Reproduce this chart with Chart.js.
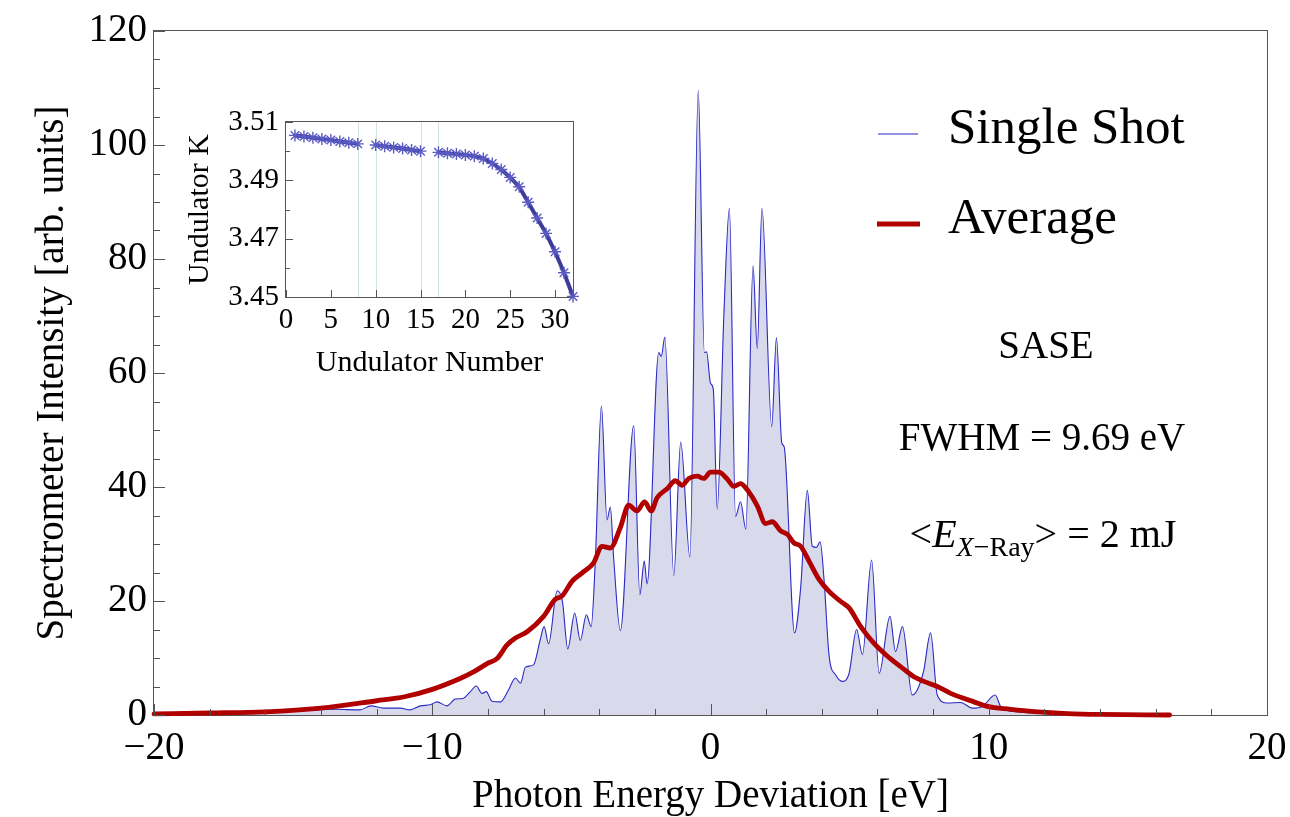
<!DOCTYPE html>
<html>
<head>
<meta charset="utf-8">
<title>SASE spectrum</title>
<script src="https://cdn.jsdelivr.net/npm/chart.js@4.4.1/dist/chart.umd.min.js"></script>
<style>
  html, body { margin: 0; padding: 0; background: #ffffff; }
  #wrap { position: relative; width: 1290px; height: 817px; overflow: hidden; }
  #main { position: absolute; left: 0; top: 0; }
  #inset { position: absolute; left: 150px; top: 85px; }
</style>
</head>
<body>
<div id="wrap">
  <canvas id="main" width="1290" height="817"></canvas>
  <canvas id="inset" width="440" height="300"></canvas>
</div>
<script>
const SERIF = "'Liberation Serif', 'Times New Roman', serif";

// Single-shot spectrum: photon energy deviation [eV] and intensity [arb. units]
const shotEnergy = [
  -20.0, -18.0, -16.0, -14.5, -13.5, -12.6, -12.2, -11.75, -11.15, -10.8,
  -10.43, -10.07, -9.83, -9.47, -9.17, -8.9, -8.63, -8.42, -8.21, -8.06,
  -7.85, -7.55, -7.26, -7.01, -6.83, -6.65, -6.36, -6.12, -5.98, -5.82,
  -5.51, -5.32, -5.13, -4.88, -4.68, -4.46, -4.29, -4.14, -3.92, -3.72,
  -3.6, -3.48, -3.24, -2.76, -2.54, -2.38, -2.28, -1.86, -1.77, -1.64,
  -1.32, -1.07, -0.74, -0.44, -0.22, -0.14, 0.0, 0.1, 0.24, 0.48,
  0.68, 0.9, 1.08, 1.27, 1.53, 1.68, 1.85, 2.2, 2.37, 2.56,
  2.65, 3.02, 3.24, 3.48, 3.66, 3.81, 3.94, 4.08, 4.26, 4.5,
  4.74, 4.98, 5.25, 5.46, 5.79, 6.06, 6.45, 6.65, 6.9, 7.25,
  7.65, 7.91, 8.15, 8.51, 8.99, 9.41, 9.77, 10.23, 10.43, 10.9,
  12.0, 14.0, 16.5
];
const shotIntensity = [
  0.1, 0.2, 0.3, 0.8, 1.0, 0.9, 1.6, 1.2, 1.2, 0.9,
  1.6, 1.8, 2.3, 1.6, 2.8, 2.9, 4.1, 5.1, 3.8, 4.1,
  2.4, 2.3, 4.4, 6.5, 5.6, 8.4, 8.8, 13.2, 15.5, 12.5,
  21.8, 19.9, 11.6, 17.9, 13.1, 17.6, 15.5, 27.0, 54.2, 34.2,
  36.5, 27.5, 14.8, 50.8, 21.1, 27.0, 23.0, 63.6, 62.9, 66.3,
  24.5, 47.9, 27.7, 109.6, 63.6, 63.7, 58.2, 57.2, 36.1, 70.1,
  88.9, 34.8, 37.4, 32.6, 78.8, 64.3, 88.9, 50.6, 66.2, 47.8,
  47.0, 14.4, 22.3, 39.4, 29.6, 29.4, 30.4, 23.8, 10.5, 7.0,
  5.9, 7.3, 15.0, 10.6, 27.2, 7.3, 17.3, 11.1, 15.5, 3.5,
  7.5, 14.4, 3.5, 2.1, 2.2, 1.2, 1.5, 3.5, 1.5, 0.6,
  0.3, 0.2, 0.1
];

// Shot-averaged spectrum
const avgEnergy = [
  -20.0, -18.0, -16.0, -14.0, -12.0, -11.0, -10.0, -9.0, -8.5, -8.0,
  -7.67, -7.31, -7.01, -6.59, -6.0, -5.58, -5.33, -4.97, -4.62, -4.2,
  -3.9, -3.6, -3.24, -2.94, -2.64, -2.37, -2.13, -1.92, -1.56, -1.26,
  -1.02, -0.78, -0.48, -0.24, 0.0, 0.3, 0.6, 0.84, 1.08, 1.32,
  1.68, 1.98, 2.22, 2.52, 2.76, 3.0, 3.24, 3.54, 3.9, 4.26,
  4.74, 4.98, 5.4, 5.87, 6.36, 6.83, 7.31, 7.67, 8.15, 8.63,
  8.99, 9.47, 9.95, 10.79, 11.63, 12.83, 14.03, 16.5
];
const avgIntensity = [
  0.2, 0.35, 0.55, 1.2, 2.5, 3.2, 4.5, 6.4, 7.6, 9.1,
  9.9, 12.3, 13.5, 14.6, 17.3, 20.3, 20.9, 23.5, 24.9, 26.7,
  29.6, 29.3, 32.9, 36.8, 35.8, 37.4, 35.8, 38.1, 39.7, 41.1,
  40.3, 41.5, 41.9, 41.5, 42.6, 42.6, 41.4, 40.1, 40.6, 39.5,
  36.7, 33.6, 33.9, 32.3, 31.7, 30.2, 29.6, 27.0, 23.8, 21.7,
  19.7, 18.8, 15.5, 12.6, 10.3, 8.5, 6.7, 5.9, 5.0, 3.8,
  3.1, 2.3, 1.5, 1.0, 0.6, 0.25, 0.1, 0.0
];

// Labelled ticks of the main frame
const xMajorTicks = [-20, -10, 0, 10, 20];
const yMajorTicks = [0, 20, 40, 60, 80, 100, 120];

// Inset: undulator K along the line (9 and 16 are empty slots)
const undulatorNumber = [
  1, 2, 3, 4, 5, 6, 7, 8, 9, 10, 11, 12, 13, 14, 15, 16,
  17, 18, 19, 20, 21, 22, 23, 24, 25, 26, 27, 28, 29, 30, 31, 32
];
const undulatorK = [
  3.5054, 3.5050, 3.5046, 3.5042, 3.5038, 3.5033, 3.5029, 3.5025, null, 3.5021,
  3.5017, 3.5013, 3.5009, 3.5004, 3.5000, null, 3.4996, 3.4993, 3.4990, 3.4987,
  3.4983, 3.4975, 3.4958, 3.4937, 3.4910, 3.4878, 3.4825, 3.4771, 3.4718, 3.4655,
  3.4583, 3.4502
];
const insetXMajor = [0, 5, 10, 15, 20, 25, 30];
const insetYMajor = [3.45, 3.47, 3.49, 3.51];
const segmentEdges = [8, 10, 15, 17];

const legendLabels = ['Single Shot', 'Average'];
const fmtMinus = v => (v < 0 ? '\u2212' + Math.abs(v) : String(v));

// Frame box plus inward tick marks (long where labelled, short otherwise)
const frameTicks = {
  id: 'frameTicks',
  beforeDatasetsDraw(chart, args, o) {
    const { ctx, chartArea: a } = chart;
    ctx.save();
    ctx.strokeStyle = o.color;
    ctx.lineWidth = 1;
    ctx.strokeRect(Math.round(a.left) - 0.5, Math.round(a.top) - 0.5,
      Math.round(a.right - a.left) + 1, Math.round(a.bottom - a.top) + 1);
    ctx.restore();
  },
  afterDatasetsDraw(chart, args, o) {
    const { ctx, chartArea: a } = chart;
    const sx = chart.scales.x, sy = chart.scales.y;
    ctx.save();
    ctx.strokeStyle = o.color;
    ctx.lineWidth = 1;
    ctx.beginPath();
    sx.ticks.forEach(t => {
      const p = Math.round(sx.getPixelForValue(t.value)) + 0.5;
      const len = t.label ? o.majorLen : o.minorLen;
      if (len > 0) { ctx.moveTo(p, a.bottom); ctx.lineTo(p, a.bottom - len); }
    });
    sy.ticks.forEach(t => {
      const p = Math.round(sy.getPixelForValue(t.value)) + 0.5;
      const len = t.label ? o.majorLen : o.minorLen;
      if (len > 0) { ctx.moveTo(a.left, p); ctx.lineTo(a.left + len, p); }
    });
    ctx.stroke();
    ctx.restore();
  }
};

// Legend and the SASE / FWHM / pulse-energy notes
const notes = {
  id: 'notes',
  afterDraw(chart) {
    const ctx = chart.ctx;
    const ds = chart.data.datasets;
    ctx.save();
    // legend entries
    const rows = [
      { x0: 878, x1: 918, y: 134, base: 143 },
      { x0: 877, x1: 920, y: 224, base: 233 }
    ];
    rows.forEach((r, i) => {
      ctx.strokeStyle = ds[i].borderColor;
      ctx.lineWidth = ds[i].borderWidth;
      ctx.beginPath(); ctx.moveTo(r.x0, r.y); ctx.lineTo(r.x1, r.y); ctx.stroke();
      ctx.fillStyle = '#000';
      ctx.font = '51px ' + SERIF;
      ctx.textAlign = 'left';
      ctx.textBaseline = 'alphabetic';
      ctx.fillText(ds[i].label, 948, r.base);
    });
    // notes
    ctx.font = '39px ' + SERIF;
    ctx.textAlign = 'center';
    ctx.fillText('SASE', 1046, 358);
    ctx.fillText('FWHM = 9.69 eV', 1042, 450);
    const runs = [
      { t: '<', f: '40px ' + SERIF, dy: 0 },
      { t: 'E', f: 'italic 40px ' + SERIF, dy: 0 },
      { t: 'X', f: 'italic 28px ' + SERIF, dy: 9 },
      { t: '\u2212Ray', f: '28px ' + SERIF, dy: 9 },
      { t: '> = 2 mJ', f: '40px ' + SERIF, dy: 0 }
    ];
    let total = 0;
    runs.forEach(r => { ctx.font = r.f; r.w = ctx.measureText(r.t).width; total += r.w; });
    let x = 1043 - total / 2;
    ctx.textAlign = 'left';
    runs.forEach(r => { ctx.font = r.f; ctx.fillText(r.t, x, 547 + r.dy); x += r.w; });
    ctx.restore();
  }
};

const mainChart = new Chart(document.getElementById('main'), {
  type: 'line',
  data: {
    datasets: [
      {
        label: legendLabels[0],
        data: shotEnergy.map((e, i) => ({ x: e, y: shotIntensity[i] })),
        borderColor: '#2a2ac4',
        borderWidth: 1.1,
        backgroundColor: '#d8d9eb',
        fill: 'origin',
        pointRadius: 0,
        cubicInterpolationMode: 'monotone',
        order: 2
      },
      {
        label: legendLabels[1],
        data: avgEnergy.map((e, i) => ({ x: e, y: avgIntensity[i] })),
        borderColor: '#b00000',
        borderWidth: 4.8,
        fill: false,
        pointRadius: 0,
        cubicInterpolationMode: 'monotone',
        borderCapStyle: 'round',
        clip: 6,
        order: 1
      }
    ]
  },
  options: {
    responsive: false,
    animation: false,
    events: [],
    layout: { padding: { top: 31, right: 23, left: 0, bottom: 0 } },
    plugins: {
      legend: { display: false },
      tooltip: { enabled: false },
      frameTicks: { color: '#555555', majorLen: 11, minorLen: 6 }
    },
    scales: {
      x: {
        type: 'linear', min: -20, max: 20,
        grid: { display: false, drawTicks: false },
        border: { display: false },
        ticks: {
          stepSize: 2, autoSkip: false, maxRotation: 0, padding: 10,
          color: '#000', font: { family: SERIF, size: 39 },
          callback: v => (xMajorTicks.includes(v) ? fmtMinus(v) : '')
        },
        title: {
          display: true, text: 'Photon Energy Deviation [eV]', color: '#000',
          font: { family: SERIF, size: 39, lineHeight: 1 }, padding: { top: 0, bottom: 1 }
        },
        afterFit: s => { s.height = 102; s.paddingLeft = 0; s.paddingRight = 0; }
      },
      y: {
        min: 0, max: 120,
        grid: { display: false, drawTicks: false },
        border: { display: false },
        ticks: {
          stepSize: 5, autoSkip: false, padding: 7,
          color: '#000', font: { family: SERIF, size: 39 },
          callback: v => (yMajorTicks.includes(v) ? String(v) : '')
        },
        title: {
          display: true, text: 'Spectrometer Intensity [arb. units]', color: '#000',
          font: { family: SERIF, size: 39, lineHeight: 1.2 }, padding: { top: 29, bottom: 0 }
        },
        afterFit: s => { s.width = 154; s.paddingTop = 0; s.paddingBottom = 0; }
      }
    }
  },
  plugins: [frameTicks, notes]
});

// Thin guide lines at the segment ends of the undulator line
const segmentGuides = {
  id: 'segmentGuides',
  beforeDatasetsDraw(chart, args, o) {
    const { ctx, chartArea: a } = chart;
    const sx = chart.scales.x;
    ctx.save();
    ctx.strokeStyle = o.color;
    ctx.lineWidth = 1;
    ctx.beginPath();
    segmentEdges.forEach(n => {
      const p = Math.round(sx.getPixelForValue(n)) + 0.5;
      ctx.moveTo(p, a.top); ctx.lineTo(p, a.bottom);
    });
    ctx.stroke();
    ctx.restore();
  }
};

const insetChart = new Chart(document.getElementById('inset'), {
  type: 'line',
  data: {
    datasets: [{
      label: 'Undulator K',
      data: undulatorNumber.map((n, i) => ({ x: n, y: undulatorK[i] })),
      borderColor: '#3d3d99',
      borderWidth: 4,
      pointStyle: 'star',
      pointRadius: 6,
      pointBorderWidth: 1.4,
      pointBorderColor: '#5a5ac4',
      pointBackgroundColor: '#5a5ac4',
      spanGaps: false,
      tension: 0,
      clip: 8
    }]
  },
  options: {
    responsive: false,
    animation: false,
    events: [],
    layout: { padding: { top: 37, right: 17, left: 0, bottom: 0 } },
    plugins: {
      legend: { display: false },
      tooltip: { enabled: false },
      frameTicks: { color: '#555555', majorLen: 7, minorLen: 4 },
      segmentGuides: { color: '#d3e4da' }
    },
    scales: {
      x: {
        type: 'linear', min: 0, max: 32,
        grid: { display: false, drawTicks: false },
        border: { display: false },
        ticks: {
          stepSize: 5, autoSkip: false, maxRotation: 0, padding: 6, includeBounds: false,
          color: '#000', font: { family: SERIF, size: 29 },
          callback: v => (insetXMajor.includes(v) ? String(v) : '')
        },
        title: {
          display: true, text: 'Undulator Number', color: '#000',
          font: { family: SERIF, size: 30, lineHeight: 1.2 }, padding: { top: 0, bottom: 4 }
        },
        afterFit: s => { s.height = 88; s.paddingLeft = 0; s.paddingRight = 0; }
      },
      y: {
        min: 3.45, max: 3.51,
        grid: { display: false, drawTicks: false },
        border: { display: false },
        ticks: {
          stepSize: 0.01, autoSkip: false, padding: 7,
          color: '#000', font: { family: SERIF, size: 29 },
          callback: v => {
            const hit = insetYMajor.find(m => Math.abs(m - v) < 1e-6);
            return hit !== undefined ? hit.toFixed(2) : '';
          }
        },
        title: {
          display: true, text: 'Undulator K', color: '#000',
          font: { family: SERIF, size: 30, lineHeight: 1.2 }, padding: { top: 32, bottom: 0 }
        },
        afterFit: s => { s.width = 136; s.paddingTop = 0; s.paddingBottom = 0; }
      }
    }
  },
  plugins: [segmentGuides, frameTicks]
});
</script>
</body>
</html>
